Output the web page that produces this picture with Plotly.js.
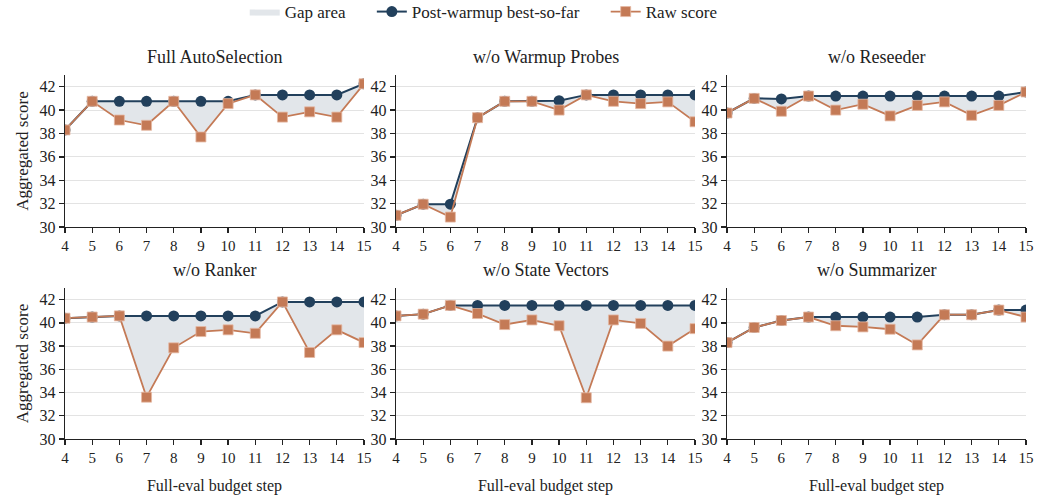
<!DOCTYPE html>
<html><head><meta charset="utf-8">
<script src="https://cdn.plot.ly/plotly-3.0.1.min.js"></script>
<style>html,body{margin:0;padding:0;background:#fff}#chart{width:1038px;height:498px}</style>
</head><body><div id="chart"></div>
<script>
const steps = [4,5,6,7,8,9,10,11,12,13,14,15];
const panelTitles = ["Full AutoSelection","w/o Warmup Probes","w/o Reseeder","w/o Ranker","w/o State Vectors","w/o Summarizer"];
const legendNames = ["Gap area","Post-warmup best-so-far","Raw score"];
const bestFull    = [38.3,40.75,40.75,40.75,40.75,40.75,40.75,41.3,41.3,41.3,41.3,42.25];
const rawFull     = [38.3,40.75,39.15,38.7,40.75,37.7,40.55,41.3,39.4,39.85,39.4,42.25];
const bestWarmup  = [31.0,31.95,31.95,39.35,40.75,40.75,40.8,41.3,41.3,41.3,41.3,41.3];
const rawWarmup   = [31.0,31.95,30.85,39.35,40.75,40.75,40.0,41.3,40.75,40.55,40.7,39.0];
const bestReseed  = [39.75,41.0,40.95,41.2,41.2,41.2,41.2,41.2,41.2,41.2,41.2,41.55];
const rawReseed   = [39.75,41.0,39.9,41.2,40.0,40.5,39.5,40.4,40.7,39.55,40.4,41.55];
const bestRanker  = [40.4,40.5,40.6,40.6,40.6,40.6,40.6,40.6,41.8,41.8,41.8,41.8];
const rawRanker   = [40.4,40.5,40.6,33.6,37.85,39.25,39.4,39.1,41.8,37.45,39.4,38.3];
const bestState   = [40.6,40.75,41.5,41.5,41.5,41.5,41.5,41.5,41.5,41.5,41.5,41.5];
const rawState    = [40.6,40.75,41.5,40.8,39.85,40.25,39.75,33.55,40.25,39.95,38.0,39.5];
const bestSumm    = [38.3,39.6,40.2,40.5,40.5,40.5,40.5,40.5,40.7,40.7,41.1,41.1];
const rawSumm     = [38.3,39.6,40.2,40.5,39.75,39.65,39.45,38.1,40.7,40.7,41.1,40.5];
const yTicks = [30,32,34,36,38,40,42];

const bestSeries = [bestFull,bestWarmup,bestReseed,bestRanker,bestState,bestSumm];
const rawSeries  = [rawFull,rawWarmup,rawReseed,rawRanker,rawState,rawSumm];

const NAVY = '#22405c', RAW = '#c47a56', GAP = '#e2e6ea';
const FONT = 'Times New Roman';
const W = 1038, H = 498;
const xDom = [[65,364],[396,695],[727,1026]].map(d=>[d[0]/W,d[1]/W]);
const yDom = [[75,227],[288,439]].map(d=>[1-d[1]/H,1-d[0]/H]);
const PAD = '\u00a0\u00a0\u00a0\u00a0\u00a0';

const traces = [];
const layout = {
  width: W, height: H,
  margin:{l:0,r:0,t:0,b:0,autoexpand:false},
  paper_bgcolor:'#fff', plot_bgcolor:'#fff',
  font:{family:FONT,color:'#222',size:15},
  showlegend:true,
  legend:{orientation:'h',x:0.466,xanchor:'center',y:1.012,yanchor:'top',
          font:{family:FONT,size:17,color:'#222'},itemwidth:30,tracegroupgap:0,
          bgcolor:'rgba(0,0,0,0)'},
  annotations:[]
};

for (let i=0;i<6;i++){
  const r = Math.floor(i/3), c = i%3;
  const n = i+1;
  const xa = 'x'+(n===1?'':n), ya = 'y'+(n===1?'':n);
  const xk = 'xaxis'+(n===1?'':n), yk = 'yaxis'+(n===1?'':n);
  traces.push({x:steps,y:rawSeries[i],xaxis:xa,yaxis:ya,mode:'lines',line:{width:0,color:GAP},
    showlegend:false,hoverinfo:'skip',legendgroup:'gap'});
  traces.push({x:steps,y:bestSeries[i],xaxis:xa,yaxis:ya,mode:'lines',fill:'tonexty',fillcolor:GAP,
    line:{width:0,color:GAP},name:legendNames[0]+PAD,showlegend:i===0,legendgroup:'gap',hoverinfo:'skip'});
  traces.push({x:steps,y:bestSeries[i],xaxis:xa,yaxis:ya,mode:'lines+markers',
    line:{color:NAVY,width:2},marker:{symbol:'circle',size:11,color:NAVY},
    name:legendNames[1]+PAD,showlegend:i===0,legendgroup:'best'});
  traces.push({x:steps,y:rawSeries[i],xaxis:xa,yaxis:ya,mode:'lines+markers',
    line:{color:RAW,width:1.8},marker:{symbol:'square',size:10,color:RAW,line:{width:0.8,color:'#e6b9a3'}},
    name:legendNames[2],showlegend:i===0,legendgroup:'raw'});

  layout[xk] = {domain:xDom[c],anchor:ya,range:[4,15],tickvals:steps,
    showline:true,linecolor:'#222',linewidth:1.3,ticks:'outside',ticklen:5,tickwidth:1.3,tickcolor:'#222',
    showgrid:false,zeroline:false,tickfont:{family:FONT,size:15,color:'#222'},automargin:false,
    title: r===1 ? {text:'Full-eval budget step',font:{family:FONT,size:16,color:'#222'},standoff:14} : {text:''}};
  layout[yk] = {domain:yDom[r],anchor:xa,range:[30,43],tickvals:yTicks,
    showline:true,linecolor:'#222',linewidth:1.3,ticks:'outside',ticklen:5,tickwidth:1.3,tickcolor:'#222',
    showgrid:true,gridcolor:'#e3e3e3',gridwidth:1,zeroline:false,
    tickfont:{family:FONT,size:16,color:'#222'},automargin:false,
    title: c===0 ? {text:'Aggregated score',font:{family:FONT,size:17,color:'#222'},standoff:6} : {text:''}};
  layout.annotations.push({text:panelTitles[i],xref:'paper',yref:'paper',
    x:(xDom[c][0]+xDom[c][1])/2,y:yDom[r][1]+0.012,xanchor:'center',yanchor:'bottom',
    showarrow:false,font:{family:FONT,size:18,color:'#222'}});
}

Plotly.newPlot('chart',traces,layout,{displayModeBar:false,staticPlot:true});
</script></body></html>
